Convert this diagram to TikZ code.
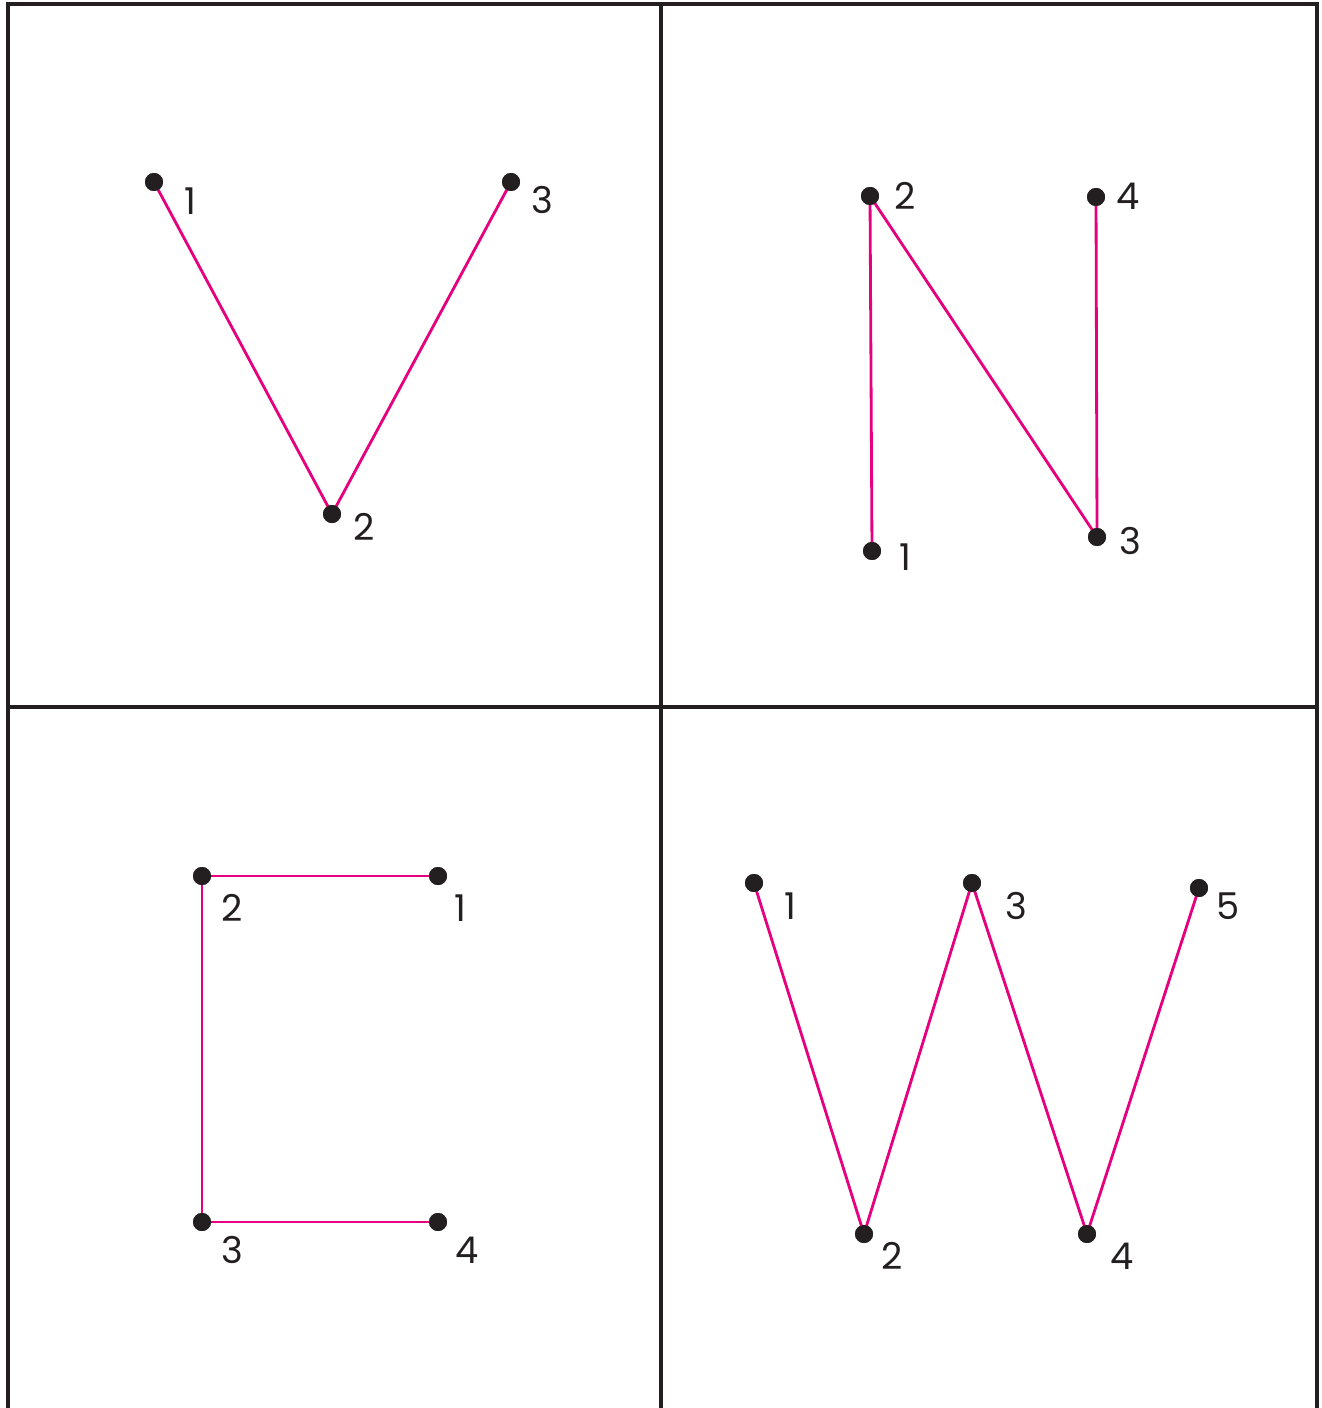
\documentclass[tikz,border=0pt]{standalone}
\usepackage{fontspec}
\setmainfont{Poppins}
\definecolor{magline}{HTML}{E6007E}
\definecolor{dotblack}{HTML}{231F20}

\begin{document}
\begin{tikzpicture}[x=0.2mm, y=-0.2mm,
  dot/.style={circle, fill=dotblack, inner sep=0pt, minimum size=3.6mm},
  num/.style={text=dotblack, font=\fontsize{21}{25}\selectfont, inner sep=0pt},
  edge/.style={magline, line width=1.6pt},
  frame/.style={dotblack, line width=2.3pt}]
  \useasboundingbox (0,0) rectangle (1321,1408);

  % grid of four panels
  \draw[frame] (8,1408) -- (8,4) -- (1317,4) -- (1317,1408);
  \draw[frame] (661,4) -- (661,1408);
  \draw[frame] (8,707) -- (1317,707);

  % V
  \node[dot] (v1) at (154,182) {};
  \node[dot] (v2) at (332,514) {};
  \node[dot] (v3) at (511,182) {};
  \draw[edge] (v1.center) -- (v2.center) -- (v3.center);
  \node[num] (v1l) at (190,201) {1};
  \node[num] (v2l) at (364,527) {2};
  \node[num] (v3l) at (542,200) {3};

  % N
  \node[dot] (n1) at (872,551) {};
  \node[dot] (n2) at (870,196) {};
  \node[dot] (n3) at (1097,537) {};
  \node[dot] (n4) at (1096,197) {};
  \draw[edge] (n1.center) -- (n2.center) -- (n3.center) -- (n4.center);
  \node[num] (n1l) at (905,557) {1};
  \node[num] (n2l) at (905,196) {2};
  \node[num] (n3l) at (1130,541) {3};
  \node[num] (n4l) at (1128,196) {4};

  % C
  \node[dot] (c1) at (438,876) {};
  \node[dot] (c2) at (202,876) {};
  \node[dot] (c3) at (202,1222) {};
  \node[dot] (c4) at (438,1222) {};
  \draw[edge] (c1.center) -- (c2.center) -- (c3.center) -- (c4.center);
  \node[num] (c1l) at (460,908) {1};
  \node[num] (c2l) at (232,908) {2};
  \node[num] (c3l) at (232,1250) {3};
  \node[num] (c4l) at (467,1250) {4};

  % W
  \node[dot] (w1) at (754,883) {};
  \node[dot] (w2) at (864,1234) {};
  \node[dot] (w3) at (972,883) {};
  \node[dot] (w4) at (1087,1234) {};
  \node[dot] (w5) at (1199,888) {};
  \draw[edge] (w1.center) -- (w2.center) -- (w3.center) -- (w4.center) -- (w5.center);
  \node[num] (w1l) at (790,906) {1};
  \node[num] (w2l) at (892,1256) {2};
  \node[num] (w3l) at (1016,906) {3};
  \node[num] (w4l) at (1122,1256) {4};
  \node[num] (w5l) at (1228,906) {5};

  % redraw dots over the lines
  \foreach \p in {v1,v2,v3,n1,n2,n3,n4,c1,c2,c3,c4,w1,w2,w3,w4,w5}
    \fill[dotblack] (\p) circle (1.8mm);
\end{tikzpicture}
\end{document}
